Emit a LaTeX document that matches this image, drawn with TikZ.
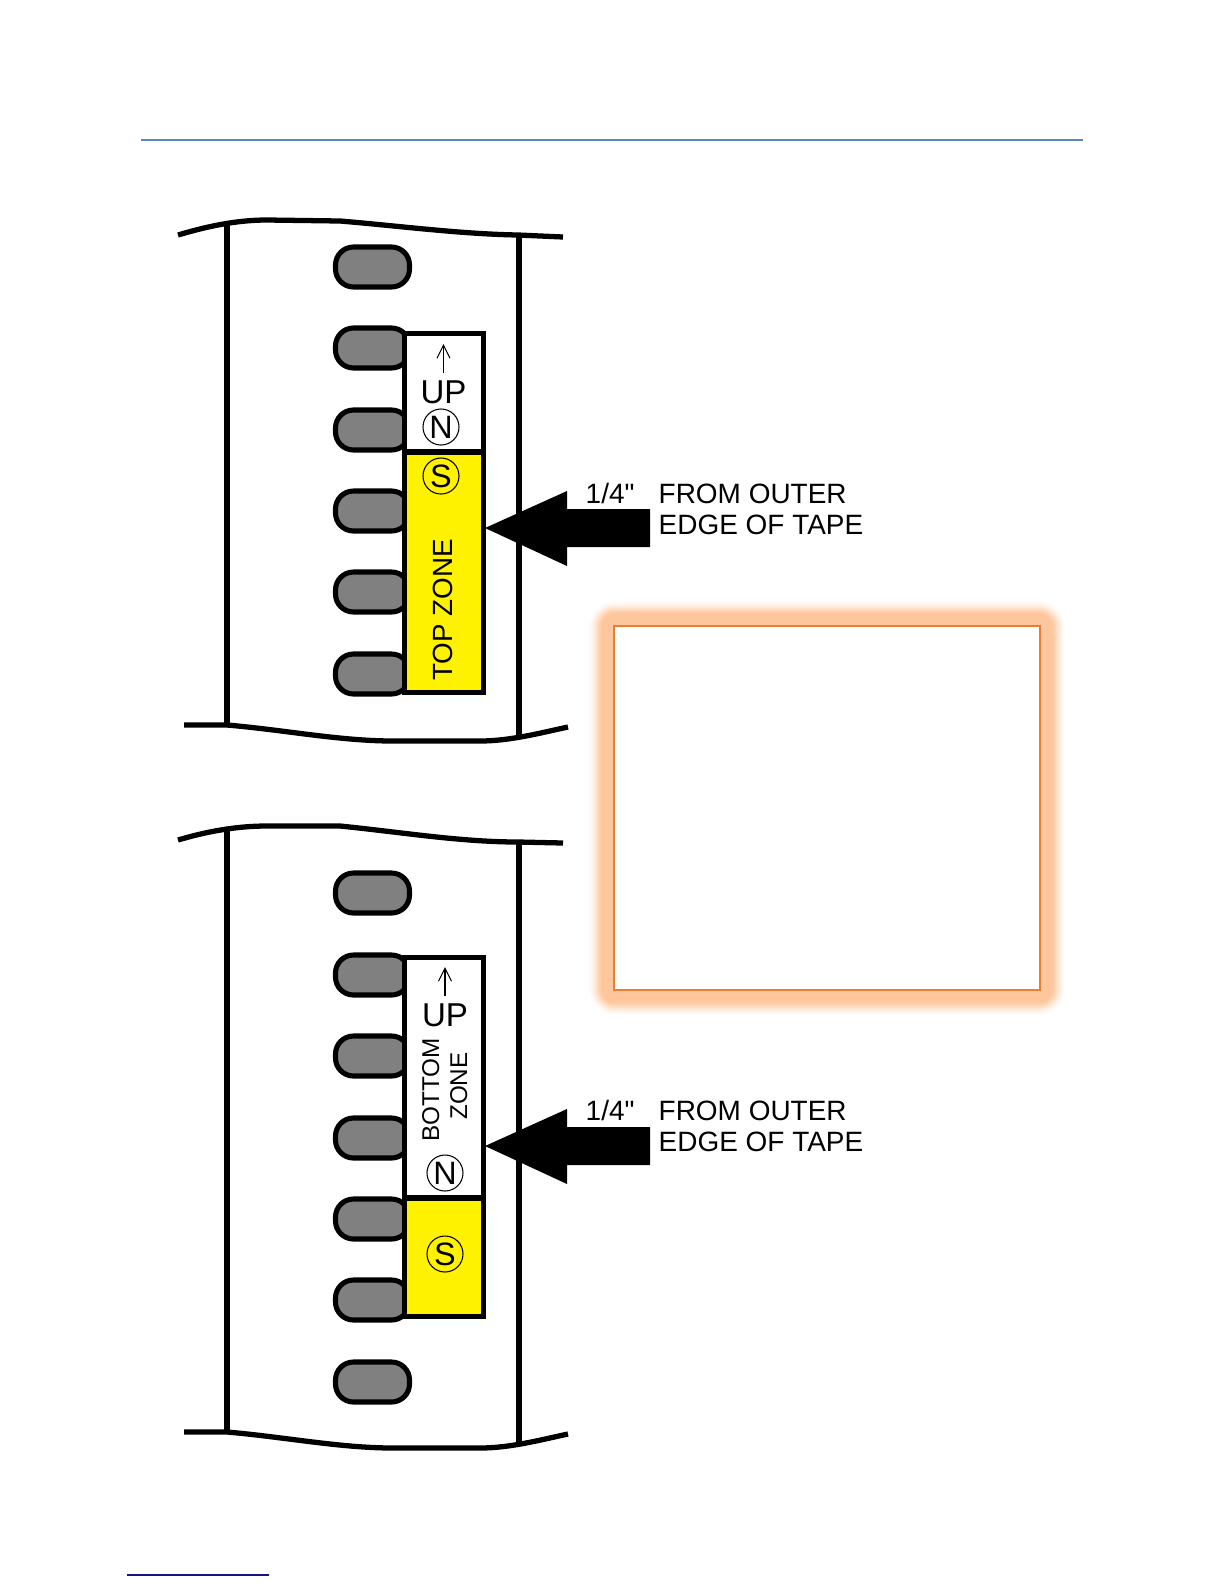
\documentclass[tikz,border=0pt]{standalone}
\usepackage{fontspec}
\setmainfont[Ligatures=TeXOff]{Liberation Sans}
\usetikzlibrary{arrows.meta}
\definecolor{magnetyellow}{RGB}{255,242,0}
\definecolor{slotgray}{RGB}{128,128,128}
\definecolor{boxorange}{RGB}{237,125,49}
\definecolor{glowpeach}{RGB}{254,198,156}
\definecolor{ruleblue}{RGB}{91,135,190}
\definecolor{rulenavy}{RGB}{20,20,130}
\begin{document}
\begin{tikzpicture}[
    x=.01cm, y=-.01cm,
    tape/.style={draw=black, line width=1.5pt},
    outline/.style={draw=black, line width=1.45pt},
    slot/.style={fill=slotgray, draw=black, line width=1.45pt, rounded corners=.18cm},
    pole/.style={circle, draw=black, line width=.3pt, minimum size=.36cm, inner sep=0pt,
        font=\fontsize{9.2}{9}\selectfont},
    upmark/.style={font=\fontsize{9.4}{9}\selectfont, inner sep=0pt, anchor=base},
    upline/.style={-{Straight Barb[length=1.3mm, width=1.3mm]}, line width=.3pt},
    zonemark/.style={font=\fontsize{7.9}{8}\selectfont, inner sep=0pt, anchor=base, rotate=90},
    smallmark/.style={font=\fontsize{6.9}{8}\selectfont, inner sep=0pt, anchor=base, rotate=90},
    gaptext/.style={font=\fontsize{7.95}{9}\selectfont, inner sep=0pt, anchor=base west},
]
    \useasboundingbox (0, 0) rectangle (1224, 1584);

    %% the rules at the head and the foot of the page
    \draw[ruleblue, line width=.35pt] (141, 140) -- (1083, 140);
    \draw[rulenavy, line width=.35pt] (127, 1575) -- (269, 1575);

    %% the box with its soft glow
    \foreach \w/\c in {25/4, 24/8, 23/13, 22/19, 21/26, 20/34, 19/43, 18/52, 17/62, 16/72, 15/81,
            14/89, 13/95, 12/100}
        \fill[glowpeach!\c!white, rounded corners=\w*.3pt]
            (614-\w, 626-\w) rectangle (1040+\w, 990+\w);
    \filldraw[fill=white, draw=boxorange, line width=.4pt] (614, 626) rectangle (1040, 990);

    %% the upper piece of tape
    \draw[tape] (178, 235) .. controls (205, 227) and (235, 220) .. (267, 220)
        -- (340, 221) .. controls (400, 226) and (460, 234) .. (518, 235) -- (563, 237);
    \draw[tape] (184, 725) -- (227, 725) .. controls (285, 730) and (340, 741) .. (393, 741)
        -- (480, 741) .. controls (510, 741) and (540, 733) .. (568, 727);
    \foreach \x/\a/\b in {227/224/725, 519/235/735}
        \draw[tape] (\x, \a) -- (\x, \b);

    %% the slots, which run under the magnet
    \foreach \y in {267, 348, 430, 511, 592, 674}
        \draw[slot] (335.5, \y-20) rectangle (409.5, \y+20);
    \filldraw[fill=white, outline] (404.5, 333.5) rectangle (483.5, 452);
    \filldraw[fill=magnetyellow, outline] (404.5, 452) rectangle (483.5, 692.5);

    %% the lower piece of tape
    \draw[tape] (178, 840) .. controls (205, 832) and (235, 826) .. (267, 826)
        -- (340, 826) .. controls (400, 832) and (460, 842) .. (518, 842) -- (563, 843);
    \draw[tape] (184, 1432) -- (227, 1432) .. controls (285, 1437) and (340, 1448) .. (393, 1448)
        -- (480, 1448) .. controls (510, 1448) and (540, 1440) .. (568, 1434);
    \foreach \x/\a/\b in {227/829/1432, 519/842/1442}
        \draw[tape] (\x, \a) -- (\x, \b);

    \foreach \y in {893, 975, 1056, 1138, 1219, 1300, 1382}
        \draw[slot] (335.5, \y-20) rectangle (409.5, \y+20);
    \filldraw[fill=white, outline] (404.5, 957.5) rectangle (483.5, 1198);
    \filldraw[fill=magnetyellow, outline] (404.5, 1198) rectangle (483.5, 1316.5);

    %% what is printed on the upper magnet
    \draw[upline] (443.5, 373) -- (443.5, 344);
    \node[upmark] (upA) at (443.5, 403) {UP};
    \node[pole] (northA) at (441, 427) {N};
    \node[pole] (southA) at (441, 476) {S};
    \node[zonemark] (zoneA) at (452, 610) {TOP ZONE};

    %% what is printed on the lower magnet
    \draw[upline] (445, 996) -- (445, 967);
    \node[upmark] (upB) at (445, 1026) {UP};
    \node[smallmark] (zoneB) at (439, 1090) {BOTTOM};
    \node[smallmark] (zoneC) at (467, 1086) {ZONE};
    \node[pole] (northB) at (445, 1173) {N};
    \node[pole] (southB) at (445, 1254) {S};

    %% the arrows and their notes
    \foreach \y in {528, 1146} {
        \fill[black] (485, \y) -- (567, \y-37) -- (567, \y-19) -- (650, \y-19)
            -- (650, \y+19) -- (567, \y+19) -- (567, \y+38) -- cycle;
    }
    \node[gaptext] (gapA) at (585, 503) {1/4"};
    \node[gaptext] (fromA) at (658, 503) {FROM OUTER};
    \node[gaptext] (edgeA) at (658, 534) {EDGE OF TAPE};
    \node[gaptext] (gapB) at (585, 1120) {1/4"};
    \node[gaptext] (fromB) at (658, 1120) {FROM OUTER};
    \node[gaptext] (edgeB) at (658, 1151) {EDGE OF TAPE};
\end{tikzpicture}
\end{document}
